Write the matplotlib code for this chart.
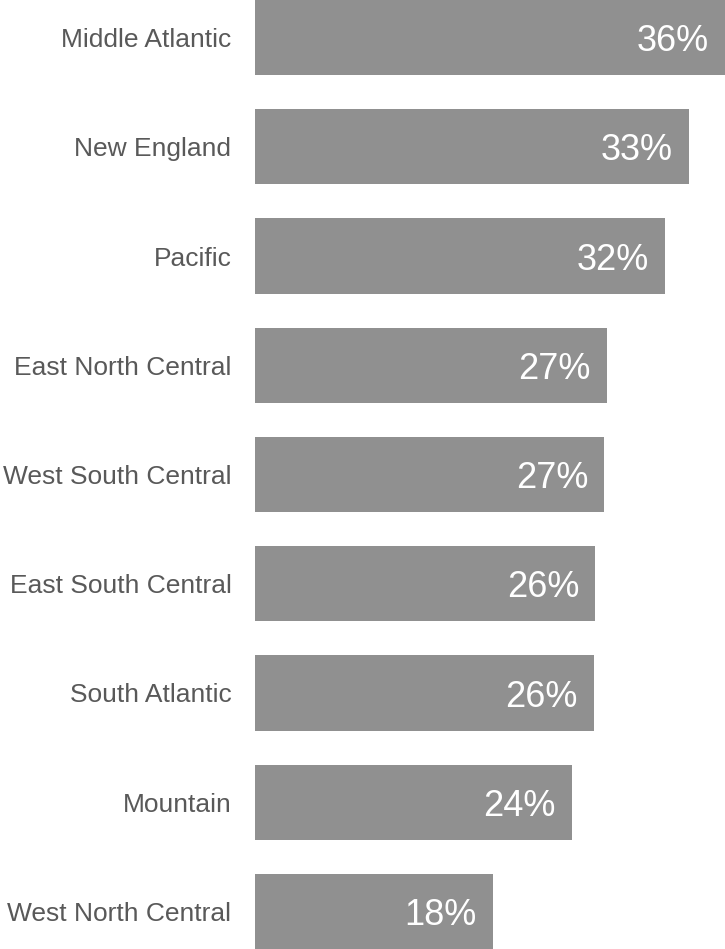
import matplotlib.pyplot as plt
import numpy as np

# 各地区占比（%）
regions = ['Middle Atlantic', 'New England', 'Pacific', 'East North Central',
           'West South Central', 'East South Central', 'South Atlantic',
           'Mountain', 'West North Central']
values = [36.2, 33.4, 31.6, 27.1, 26.9, 26.2, 26.1, 24.4, 18.3]

plt.rcParams['font.family'] = ['Liberation Sans', 'DejaVu Sans']

fig = plt.figure(figsize=(7.25, 9.49), dpi=100)
ax = fig.add_axes([255 / 725, 0, 470 / 725, 1])

h = 0.687
y = np.arange(len(regions))
bars = ax.barh(y, values, height=h, color='#909090')

# 条形内部的白色数值标签
for b, v in zip(bars, values):
    ax.annotate(f'{v:.0f}%', xy=(b.get_width(), b.get_y() + h / 2),
                xytext=(-11.5, -3), textcoords='offset points',
                ha='right', va='center', color='white', fontsize=26)

ax.set_yticks(y)
ax.set_yticklabels(regions, fontsize=19, color='#595959')
ax.tick_params(axis='y', length=0, pad=17)
ax.set_xticks([])
ax.set_xlim(0, values[0])
ax.set_ylim(len(regions) - 1 + h / 2, -h / 2)
for s in ax.spines.values():
    s.set_visible(False)

fig.savefig('out.png', dpi=100)
